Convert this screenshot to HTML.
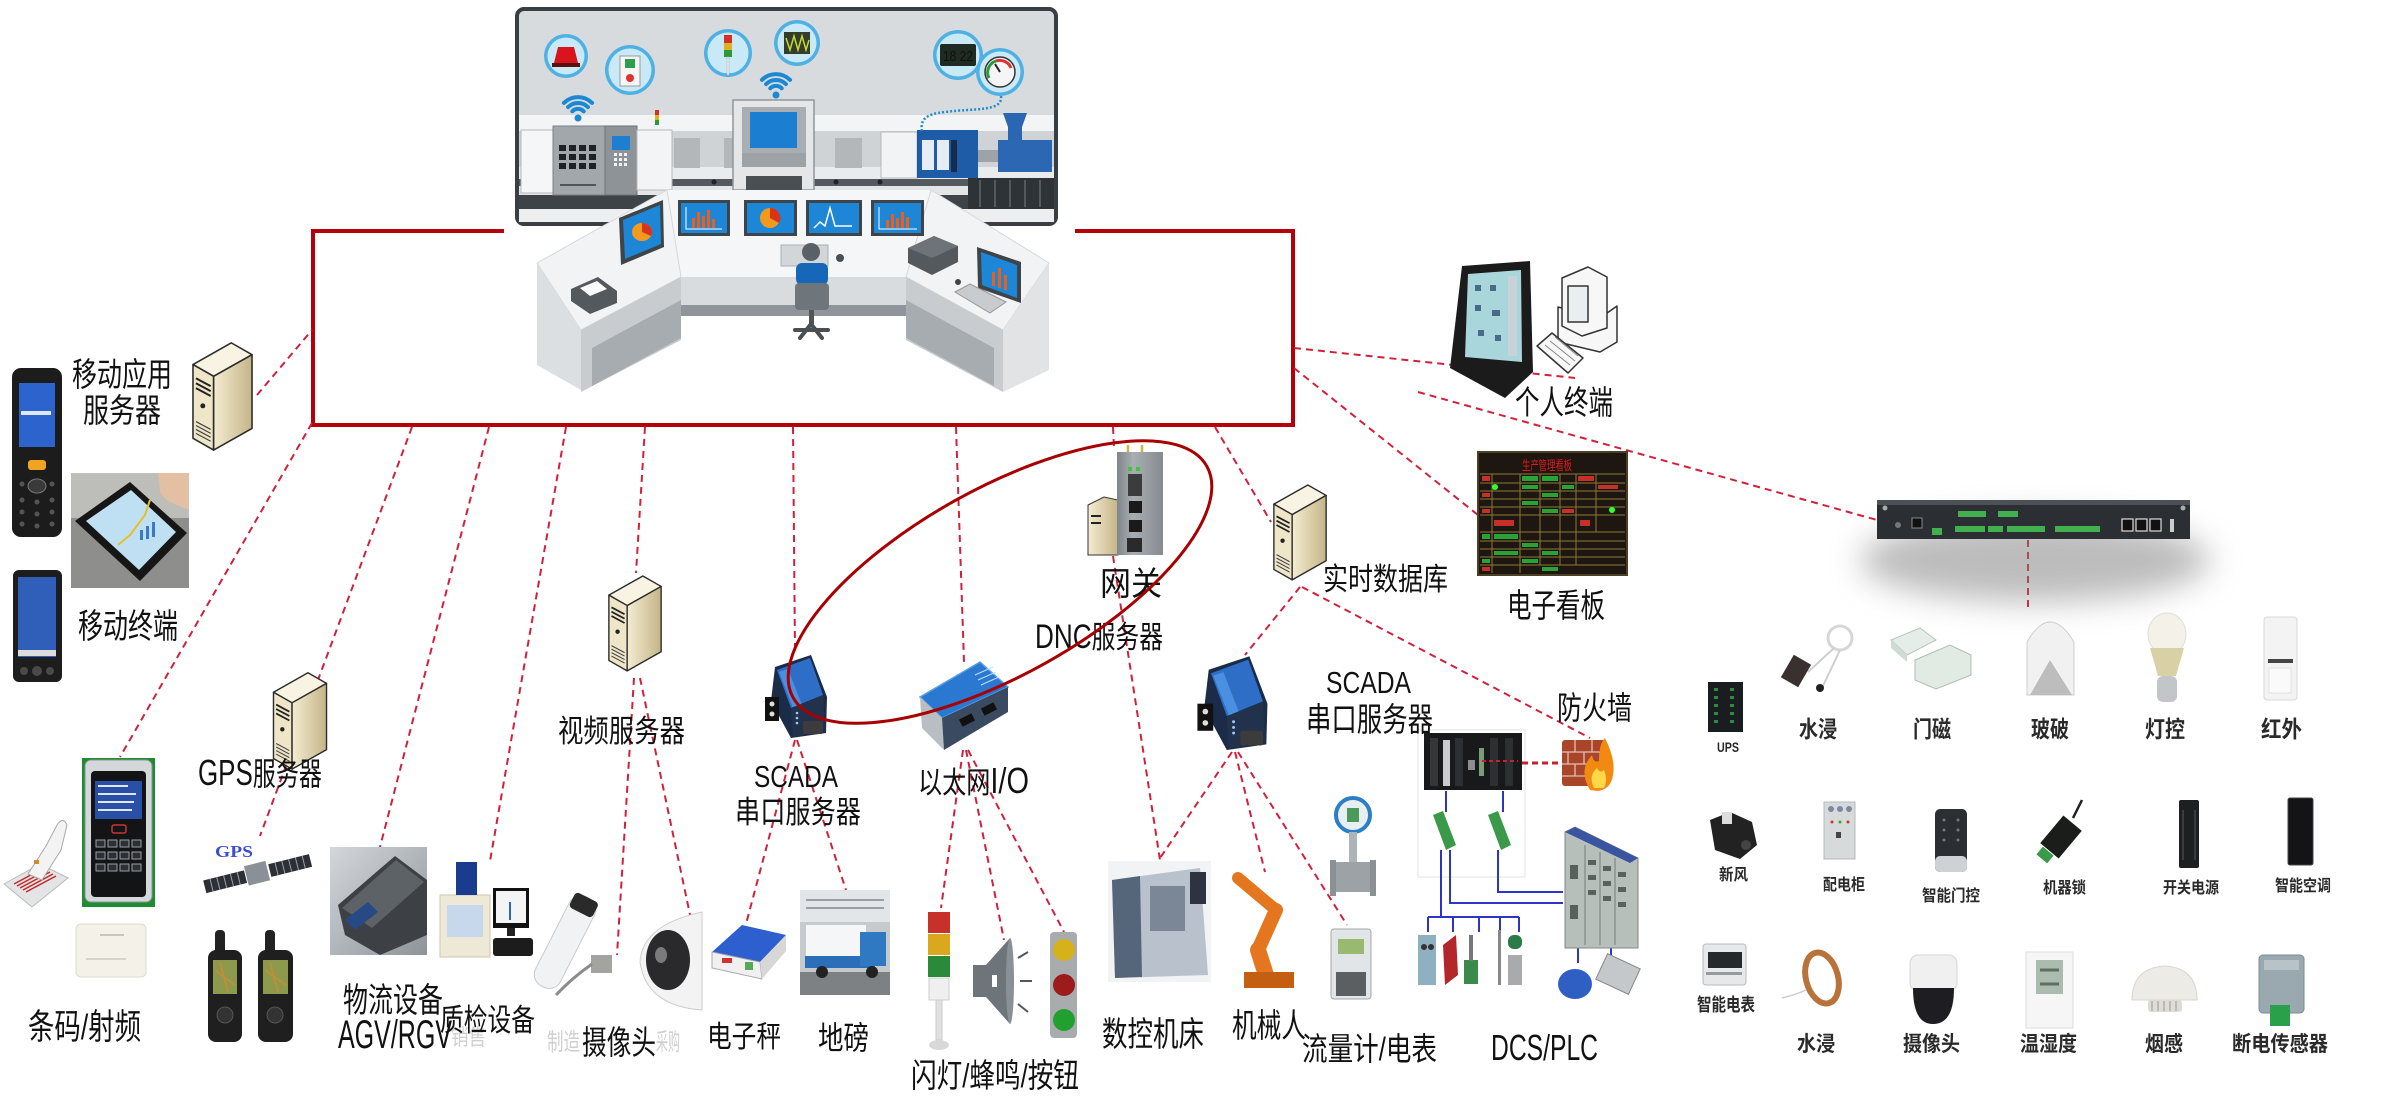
<!DOCTYPE html>
<html><head><meta charset="utf-8"><title>diagram</title>
<style>
html,body{margin:0;padding:0;background:#fff;width:2391px;height:1118px;overflow:hidden}
svg{display:block}
text{font-family:"Liberation Sans","Noto Sans CJK SC",sans-serif;fill:#111}
.g text{font-weight:bold;fill:#2a2a2a}
.fa{fill:#cfcfcf}
</style></head><body>
<svg xmlns="http://www.w3.org/2000/svg" width="2391" height="1118" viewBox="0 0 2391 1118">
<defs>
 <linearGradient id="beige" x1="0" x2="1" y1="0" y2="0"><stop offset="0" stop-color="#f4ecd2"/><stop offset="1" stop-color="#c4b587"/></linearGradient>
 <linearGradient id="gw" x1="0" x2="1"><stop offset="0" stop-color="#7f858a"/><stop offset=".35" stop-color="#a9aeb2"/><stop offset="1" stop-color="#858b90"/></linearGradient>
 <linearGradient id="agv" x1="0" x2="1" y1="0" y2="1"><stop offset="0" stop-color="#d3d7da"/><stop offset="1" stop-color="#8d9499"/></linearGradient>
 <filter id="blur" x="-50%" y="-80%" width="200%" height="260%"><feGaussianBlur stdDeviation="16"/></filter>
 <symbol id="srv" viewBox="0 0 62 112">
   <polygon points="1,24 40,2 61,14 22,36" fill="#f8f3e2" stroke="#2b2b2b" stroke-width="1.6" stroke-linejoin="round"/>
   <polygon points="1,24 22,36 22,111 1,99" fill="#efe6c8" stroke="#2b2b2b" stroke-width="1.6" stroke-linejoin="round"/>
   <polygon points="22,36 61,14 61,89 22,111" fill="url(#beige)" stroke="#2b2b2b" stroke-width="1.6" stroke-linejoin="round"/>
   <path d="M4,38 L19,46 M4,43 L19,51 M4,48 L19,56" stroke="#222" stroke-width="2"/>
   <circle cx="11" cy="66" r="2.5" fill="#222"/>
   <path d="M4,82 L19,90 M4,86 L19,94 M4,90 L19,98 M4,94 L19,102" stroke="#444" stroke-width="1.2"/>
 </symbol>
 <symbol id="ser" viewBox="0 0 63 85">
   <polygon points="10,14 46,2 62,44 61,80 26,85 6,48" fill="#1b2c48"/>
   <polygon points="12,17 45,5 58,42 26,55" fill="#2e6ec6"/>
   <polygon points="14,19 23,16 37,52 28,55" fill="#4a8fe0"/>
   <polygon points="26,55 58,42 60,78 28,84" fill="#22324d"/>
   <rect x="0" y="44" width="14" height="24" fill="#111"/>
   <circle cx="7" cy="51" r="2.5" fill="#ddd"/><circle cx="7" cy="61" r="2.5" fill="#ddd"/>
   <rect x="38" y="68" width="20" height="13" fill="#3c3c3c" rx="2"/>
   <circle cx="32" cy="60" r="1.3" fill="#9cf"/><circle cx="32" cy="65" r="1.3" fill="#9cf"/><circle cx="32" cy="70" r="1.3" fill="#9cf"/>
 </symbol>
</defs>

<rect width="2391" height="1118" fill="#fff"/>

<!-- red frame -->
<rect x="313" y="231" width="980" height="194" fill="none" stroke="#b50008" stroke-width="4"/>

<!-- dashed connectors -->
<g stroke="#d3203a" stroke-width="2" stroke-dasharray="7 5" fill="none">
 <path d="M257,395 L312,330"/>
 <path d="M312,423 L120,757"/>
 <path d="M412,427 L260,836"/>
 <path d="M489,427 L380,847"/>
 <path d="M566,427 L490,861"/>
 <path d="M645,427 L636,573"/>
 <path d="M634,678 L617,955"/>
 <path d="M640,678 L700,962"/>
 <path d="M793,427 L795,653"/>
 <path d="M795,740 L746,924"/>
 <path d="M797,740 L846,890"/>
 <path d="M956,427 L964,662"/>
 <path d="M963,750 L941,908"/>
 <path d="M966,750 L1004,940"/>
 <path d="M968,750 L1064,932"/>
 <path d="M1113,427 L1114,448"/>
 <path d="M1113,556 L1160,860"/>
 <path d="M1215,427 L1271,522"/>
 <path d="M1300,587 L1245,655"/>
 <path d="M1302,587 L1590,738"/>
 <path d="M1232,752 L1160,858"/>
 <path d="M1235,752 L1265,872"/>
 <path d="M1238,752 L1347,925"/>
 <path d="M1294,348 L1575,378"/>
 <path d="M1294,368 L1478,515"/>
 <path d="M1418,392 L1877,520"/>
 <path d="M2028,540 L2028,610"/>
</g>

<!-- ===== TOP PICTURE ===== -->
<rect x="517" y="9" width="539" height="215" rx="7" fill="#d8dbde" stroke="#393e42" stroke-width="4"/>
<rect x="519" y="115" width="535" height="16" fill="#f3f4f5"/>
<rect x="519" y="131" width="535" height="36" fill="#d0d3d6"/>
<rect x="519" y="167" width="535" height="12" fill="#e9ebec"/>
<rect x="519" y="179" width="535" height="7" fill="#53595e"/>
<rect x="519" y="186" width="535" height="9" fill="#e3e5e7"/>
<rect x="519" y="195" width="535" height="14" fill="#3d4347"/>
<rect x="519" y="209" width="535" height="13" fill="#eceef0"/>
<rect x="674" y="138" width="26" height="30" fill="#b3b7ba"/>
<rect x="724" y="138" width="9" height="30" fill="#b3b7ba"/>
<rect x="835" y="138" width="27" height="30" fill="#b3b7ba"/>
<circle cx="714" cy="182" r="2.5" fill="#1e2226"/><circle cx="836" cy="182" r="2.5" fill="#1e2226"/><circle cx="880" cy="182" r="2.5" fill="#1e2226"/>
<!-- left machines -->
<rect x="521" y="130" width="32" height="63" fill="#f5f6f7" stroke="#b5b9bc"/>
<rect x="553" y="126" width="52" height="69" fill="#a2a7ab" stroke="#7d8286"/>
<g fill="#1e2226">
<rect x="559" y="145" width="7" height="6"/><rect x="569" y="145" width="7" height="6"/><rect x="579" y="145" width="7" height="6"/><rect x="589" y="145" width="7" height="6"/>
<rect x="559" y="154" width="7" height="6"/><rect x="569" y="154" width="7" height="6"/><rect x="579" y="154" width="7" height="6"/><rect x="589" y="154" width="7" height="6"/>
<rect x="559" y="163" width="7" height="6"/><rect x="569" y="163" width="7" height="6"/><rect x="579" y="163" width="7" height="6"/><rect x="589" y="163" width="7" height="6"/>
</g>
<rect x="560" y="184" width="36" height="2" fill="#555"/>
<rect x="605" y="126" width="32" height="69" fill="#8e9398" stroke="#6f7478"/>
<rect x="612" y="136" width="18" height="14" fill="#1c7fd1"/>
<g fill="#f2f2f2"><rect x="614" y="153" width="3" height="3"/><rect x="619" y="153" width="3" height="3"/><rect x="624" y="153" width="3" height="3"/><rect x="614" y="158" width="3" height="3"/><rect x="619" y="158" width="3" height="3"/><rect x="624" y="158" width="3" height="3"/><rect x="614" y="163" width="3" height="3"/><rect x="619" y="163" width="3" height="3"/><rect x="624" y="163" width="3" height="3"/></g>
<rect x="637" y="130" width="35" height="60" fill="#f3f4f5" stroke="#b5b9bc"/>
<rect x="655" y="110" width="4" height="5" fill="#d3302a"/><rect x="655" y="115" width="4" height="5" fill="#e0b020"/><rect x="655" y="120" width="4" height="5" fill="#2c9a3a"/>
<!-- center machine -->
<rect x="733" y="100" width="81" height="90" fill="#e4e6e8" stroke="#8f959a" stroke-width="1.5"/>
<rect x="742" y="107" width="64" height="46" fill="#a9aeb2"/>
<rect x="750" y="112" width="47" height="36" fill="#1b7ed0"/>
<rect x="742" y="153" width="64" height="14" fill="#9da2a6"/>
<rect x="746" y="176" width="56" height="14" fill="#4a4f54"/>
<!-- injection machine -->
<rect x="881" y="132" width="36" height="46" fill="#f2f3f4" stroke="#b5b9bc"/>
<rect x="917" y="130" width="61" height="48" fill="#1f5ca8"/>
<rect x="922" y="140" width="12" height="30" fill="#e6ecf3"/>
<rect x="937" y="140" width="12" height="30" fill="#e6ecf3"/>
<rect x="951" y="140" width="6" height="32" fill="#172c4a"/>
<rect x="978" y="150" width="20" height="12" fill="#9ea3a7"/>
<rect x="998" y="140" width="54" height="32" fill="#2b67b2"/>
<polygon points="1003,113 1027,113 1022,127 1008,127" fill="#2a66b1"/>
<rect x="1008" y="127" width="14" height="13" fill="#2a66b1"/>
<rect x="968" y="178" width="86" height="31" fill="#2e3337"/>
<path d="M980,180 V207 M995,180 V207 M1010,180 V207 M1025,180 V207 M1040,180 V207" stroke="#60666b" stroke-width="1.5"/>
<path d="M1001,96 C1003,112 975,108 945,112 C925,114 920,120 922,132" stroke="#1f8fd0" stroke-width="2.5" stroke-dasharray="2 2" fill="none"/>
<path d="M975,55 L984,58" stroke="#1f8fd0" stroke-width="2.5" stroke-dasharray="2 2"/>
<!-- bubbles -->
<circle cx="566" cy="56" r="22" fill="#4fb1e3"/><circle cx="566" cy="56" r="18.5" fill="#c9e9f7"/>
<polygon points="558,47 574,47 578,63 554,63" fill="#d8141c"/><rect x="552" y="63" width="28" height="4" fill="#5a1010"/>
<circle cx="630" cy="70" r="25" fill="#4fb1e3"/><circle cx="630" cy="70" r="21.5" fill="#c9e9f7"/>
<rect x="620" y="56" width="20" height="30" fill="#f6f6f6" stroke="#999"/><rect x="625" y="59" width="10" height="9" fill="#2e9e4a"/><circle cx="630" cy="78" r="4" fill="#d33"/>
<circle cx="728" cy="53" r="24" fill="#4fb1e3"/><circle cx="728" cy="53" r="20.5" fill="#c9e9f7"/>
<rect x="724" y="35" width="8" height="8" fill="#d3302a"/><rect x="724" y="43" width="8" height="7" fill="#e0b020"/><rect x="724" y="50" width="8" height="7" fill="#2c9a3a"/><rect x="727" y="57" width="2" height="18" fill="#eee" stroke="#aaa" stroke-width=".5"/>
<circle cx="797" cy="43" r="23" fill="#4fb1e3"/><circle cx="797" cy="43" r="19.5" fill="#c9e9f7"/>
<rect x="784" y="32" width="26" height="22" fill="#323d2c"/><polyline points="786,38 790,50 794,36 798,50 802,36 806,50 809,40" stroke="#c8d830" stroke-width="1.5" fill="none"/>
<circle cx="958" cy="55" r="25" fill="#4fb1e3"/><circle cx="958" cy="55" r="21.5" fill="#c9e9f7"/>
<rect x="940" y="44" width="36" height="22" rx="2" fill="#1f2a22"/>
<text x="943" y="61" font-size="15" fill="#6fd34a" textLength="30" lengthAdjust="spacingAndGlyphs">18 22</text>
<circle cx="1000" cy="72" r="24" fill="#4fb1e3"/><circle cx="1000" cy="72" r="20.5" fill="#c9e9f7"/>
<circle cx="1000" cy="72" r="15" fill="#f5f5f5" stroke="#333" stroke-width="1.5"/>
<path d="M989,78 A12 12 0 0 1 996,61" stroke="#2a9a3a" stroke-width="3" fill="none"/><path d="M996,61 A12 12 0 0 1 1011,68" stroke="#d33" stroke-width="3" fill="none"/>
<path d="M1000,72 L995,64" stroke="#222" stroke-width="2"/>
<!-- wifi -->
<g stroke="#1a88d2" stroke-width="4" fill="none" stroke-linecap="round">
<path d="M572.3,111.3 A8 8 0 0 1 583.7,111.3"/><path d="M568.1,107.1 A14 14 0 0 1 587.9,107.1"/><path d="M563.9,102.9 A20 20 0 0 1 592.1,102.9"/>
<path d="M770.3,88.3 A8 8 0 0 1 781.7,88.3"/><path d="M766.1,84.1 A14 14 0 0 1 785.9,84.1"/><path d="M761.9,79.9 A20 20 0 0 1 790.1,79.9"/>
</g>
<circle cx="578" cy="118" r="3.5" fill="#1a88d2"/><circle cx="776" cy="95" r="3.5" fill="#1a88d2"/>

<!-- console -->
<rect x="504" y="226" width="571" height="176" fill="#fff"/>
<polygon points="667,190 931,190 906,277 681,277" fill="#f5f6f7"/>
<polygon points="667,190 537,263 581,330 681,277" fill="#f2f3f4" stroke="#d5d8da"/>
<polygon points="931,190 1049,263 1003,330 906,277" fill="#f2f3f4" stroke="#d5d8da"/>
<polygon points="537,263 581,330 581,390 537,365" fill="#dcdfe1"/>
<polygon points="581,330 681,277 681,340 581,392" fill="#c8cccf"/>
<polygon points="592,348 681,300 681,338 592,386" fill="#a7acb0"/>
<rect x="681" y="277" width="225" height="38" fill="#d9dcde"/>
<rect x="681" y="305" width="225" height="11" fill="#8f959a"/>
<polygon points="906,277 1003,330 1003,392 906,340" fill="#c8cccf"/>
<polygon points="906,300 994,348 994,386 906,338" fill="#a7acb0"/>
<polygon points="1003,330 1049,263 1049,370 1003,392" fill="#e1e3e5"/>
<!-- monitors -->
<rect x="678" y="200" width="52" height="36" fill="#3e4448"/><rect x="681" y="203" width="46" height="30" fill="#1d86d6"/>
<path d="M686,207 V229 H722" stroke="#fff" stroke-width="1" fill="none"/>
<g fill="#e8601c"><rect x="692" y="218" width="3" height="10"/><rect x="697" y="212" width="3" height="16"/><rect x="702" y="216" width="3" height="12"/><rect x="707" y="210" width="3" height="18"/><rect x="712" y="219" width="3" height="9"/></g>
<rect x="744" y="200" width="53" height="36" fill="#3e4448"/><rect x="747" y="203" width="47" height="30" fill="#1d86d6"/>
<circle cx="770" cy="218" r="10" fill="#f29a1c"/><path d="M770,218 L770,208 A10 10 0 0 1 779,223 Z" fill="#d8341c"/>
<rect x="806" y="200" width="56" height="36" fill="#3e4448"/><rect x="809" y="203" width="50" height="30" fill="#1d86d6"/>
<polyline points="814,228 820,222 825,226 830,208 835,226 852,226" stroke="#fff" stroke-width="1.5" fill="none"/>
<rect x="871" y="200" width="53" height="36" fill="#3e4448"/><rect x="874" y="203" width="47" height="30" fill="#1d86d6"/>
<path d="M879,207 V229 H917" stroke="#fff" stroke-width="1" fill="none"/>
<g fill="#e8601c"><rect x="886" y="220" width="3" height="8"/><rect x="891" y="214" width="3" height="14"/><rect x="896" y="218" width="3" height="10"/><rect x="901" y="212" width="3" height="16"/><rect x="906" y="217" width="3" height="11"/></g>
<polygon points="619,218 663,200 664,247 621,265" fill="#3e4448"/><polygon points="623,220 660,205 661,244 625,259" fill="#1d86d6"/>
<ellipse cx="642" cy="232" rx="10" ry="9" fill="#f29a1c"/><path d="M642,232 L642,223 A10 9 0 0 1 651,236 Z" fill="#d8341c"/>
<polygon points="977,247 1021,262 1021,303 978,288" fill="#3e4448"/><polygon points="981,252 1017,265 1017,298 982,285" fill="#1d86d6"/>
<g fill="#e8601c"><rect x="992" y="272" width="3" height="14"/><rect x="998" y="268" width="3" height="20"/><rect x="1004" y="275" width="3" height="15"/></g>
<!-- operator -->
<rect x="781" y="245" width="47" height="21" fill="#d3d6d9" stroke="#aab0b4"/>
<circle cx="840" cy="258" r="4" fill="#4a4f54"/>
<circle cx="811" cy="252" r="9" fill="#5a6166"/>
<rect x="796" y="263" width="32" height="22" rx="6" fill="#1667b8"/>
<rect x="795" y="283" width="34" height="27" rx="4" fill="#6f767b"/>
<rect x="809" y="310" width="5" height="14" fill="#555"/>
<path d="M795,330 L828,330 M811,324 L800,338 M811,324 L822,338" stroke="#4a4f54" stroke-width="4" stroke-linecap="round"/>
<!-- desk items -->
<polygon points="571,289 598,277 617,291 617,303 590,314 571,301" fill="#54595e"/>
<polygon points="580,288 597,281 607,289 590,296" fill="#fafafa"/>
<polygon points="908,248 934,236 958,246 958,262 932,275 908,263" fill="#54595e"/>
<polygon points="908,248 934,236 958,246 932,258" fill="#6d7378"/>
<polygon points="955,292 970,284 1006,302 990,313" fill="#c9cccf" stroke="#999"/>
<circle cx="958" cy="282" r="3" fill="#444"/>

<!-- ===== LEFT COLUMN ===== -->
<rect x="12" y="368" width="50" height="169" rx="9" fill="#1c1c1c"/>
<rect x="19" y="383" width="36" height="64" fill="#2c63cc"/>
<rect x="21" y="411" width="30" height="4" fill="#dfe8ff"/>
<rect x="28" y="460" width="18" height="10" rx="3" fill="#f0a422"/>
<ellipse cx="37" cy="486" rx="9" ry="7" fill="#3a3a3a" stroke="#777"/>
<g fill="#555"><circle cx="22" cy="484" r="2.5"/><circle cx="52" cy="484" r="2.5"/><circle cx="22" cy="500" r="2.5"/><circle cx="37" cy="502" r="2.5"/><circle cx="52" cy="500" r="2.5"/><circle cx="22" cy="512" r="2.5"/><circle cx="37" cy="514" r="2.5"/><circle cx="52" cy="512" r="2.5"/><circle cx="22" cy="524" r="2.5"/><circle cx="37" cy="526" r="2.5"/><circle cx="52" cy="524" r="2.5"/></g>
<!-- tablet photo -->
<rect x="71" y="473" width="118" height="115" fill="#8e8f8d"/>
<rect x="71" y="473" width="118" height="45" fill="#bdbdba"/>
<polygon points="75,521 130,482 187,533 140,581" fill="#161616"/>
<polygon points="86,521 131,490 176,532 139,570" fill="#bfe0f2"/>
<polyline points="118,545 130,535 145,515 150,500" stroke="#e6c02a" stroke-width="2" fill="none"/>
<g fill="#3a78c8"><rect x="140" y="530" width="3" height="10"/><rect x="146" y="526" width="3" height="13"/><rect x="152" y="522" width="3" height="15"/></g>
<path d="M158,473 L189,473 L189,510 Q176,505 166,500 L160,492 Z" fill="#e3bfa3"/>
<!-- PDA -->
<rect x="13" y="570" width="49" height="112" rx="6" fill="#1d1d1d"/>
<rect x="18" y="577" width="38" height="80" fill="#2f5fb8"/>
<rect x="18" y="650" width="38" height="6" fill="#dcdcdc"/>
<circle cx="24" cy="671" r="4" fill="#4a4a4a"/><circle cx="37" cy="671" r="5" fill="#4a4a4a"/><circle cx="50" cy="671" r="4" fill="#4a4a4a"/>
<!-- mobile app server -->
<use href="#srv" x="192" y="340" width="61" height="112"/>
<!-- card reader -->
<rect x="82" y="758" width="73" height="149" fill="#1e8c33"/>
<rect x="85" y="760" width="67" height="142" rx="6" fill="#d4d8db" stroke="#8d9296"/>
<rect x="91" y="771" width="55" height="126" rx="4" fill="#121416"/>
<rect x="95" y="781" width="47" height="38" fill="#2a4fa6"/>
<g fill="#dfe6ff"><rect x="98" y="785" width="30" height="2"/><rect x="98" y="793" width="38" height="2"/><rect x="98" y="801" width="36" height="2"/><rect x="98" y="809" width="34" height="2"/></g>
<rect x="112" y="825" width="14" height="8" rx="2" fill="none" stroke="#c33" stroke-width="1.5"/>
<g fill="#2d3033" stroke="#9aa0a4" stroke-width="1">
<rect x="96" y="840" width="9" height="7"/><rect x="108" y="840" width="9" height="7"/><rect x="120" y="840" width="9" height="7"/><rect x="132" y="840" width="9" height="7"/>
<rect x="96" y="852" width="9" height="7"/><rect x="108" y="852" width="9" height="7"/><rect x="120" y="852" width="9" height="7"/><rect x="132" y="852" width="9" height="7"/>
<rect x="96" y="864" width="9" height="7"/><rect x="108" y="864" width="9" height="7"/><rect x="120" y="864" width="9" height="7"/><rect x="132" y="864" width="9" height="7"/>
</g>
<!-- barcode scanner -->
<polygon points="4,884 40,864 68,878 32,907" fill="#e3e4e6" stroke="#bbb"/>
<path d="M14,884 L44,868 M17,886 L47,870 M20,888 L50,872 M23,890 L53,874 M26,892 L56,876" stroke="#c22a2a" stroke-width="1.5"/>
<path d="M28,874 L46,846 L57,825 Q63,816 67,825 L61,850 L42,880 Z" fill="#f3f3f3" stroke="#a9a9a9"/>
<rect x="34" y="860" width="5" height="4" fill="#d08a30"/>
<!-- RF card -->
<rect x="76" y="924" width="70" height="53" rx="5" fill="#f3f1e8" stroke="#dedbd0"/>
<rect x="100" y="934" width="24" height="2" fill="#c9c6bc"/><rect x="86" y="958" width="40" height="2" fill="#d6d3c9"/>
<!-- GPS server + satellite + handhelds -->
<use href="#srv" x="272" y="671" width="56" height="99"/>
<text x="215" y="857" font-size="17" font-weight="bold" fill="#3b4fd0" textLength="38" lengthAdjust="spacingAndGlyphs" style="font-family:'Liberation Serif',serif;fill:#3b4fd0">GPS</text>
<g transform="rotate(-14 258 873)">
<rect x="203" y="867" width="42" height="13" fill="#2c3036"/>
<rect x="270" y="867" width="42" height="13" fill="#2c3036"/>
<rect x="246" y="863" width="22" height="20" fill="#8a9097"/>
<path d="M210,867 V880 M217,867 V880 M224,867 V880 M231,867 V880 M238,867 V880 M277,867 V880 M284,867 V880 M291,867 V880 M298,867 V880 M305,867 V880" stroke="#9aa1a8" stroke-width="1"/>
</g>
<g>
<rect x="215" y="930" width="10" height="26" rx="4" fill="#222"/>
<rect x="208" y="950" width="34" height="92" rx="8" fill="#1f1f1f"/>
<rect x="213" y="960" width="24" height="34" fill="#8d9a4c"/>
<path d="M215,970 L235,985 M220,962 L228,992" stroke="#c98b3a" stroke-width="1.5"/>
<circle cx="225" cy="1015" r="8" fill="#333" stroke="#555"/>
<rect x="265" y="930" width="10" height="26" rx="4" fill="#222"/>
<rect x="258" y="950" width="35" height="92" rx="8" fill="#1f1f1f"/>
<rect x="263" y="960" width="25" height="34" fill="#8d9a4c"/>
<path d="M265,970 L286,985 M270,962 L278,992" stroke="#c98b3a" stroke-width="1.5"/>
<circle cx="275" cy="1015" r="8" fill="#333" stroke="#555"/>
</g>
<!-- AGV -->
<rect x="330" y="847" width="97" height="108" fill="url(#agv)"/>
<polygon points="338,905 395,856 427,880 427,935 380,955 345,935" fill="#3d4145"/>
<polygon points="342,908 396,860 424,882 372,928" fill="#5d6267"/>
<polygon points="345,920 368,902 378,912 355,930" fill="#274a86"/>
<!-- quality device -->
<rect x="440" y="895" width="50" height="62" fill="#eee8d6" stroke="#cfc6ad"/>
<rect x="447" y="905" width="36" height="32" fill="#c8d8ec"/>
<path d="M456,862 h21 v33 h-21 z" fill="#1a3c8e"/>
<rect x="493" y="888" width="36" height="40" fill="#111"/><rect x="496" y="891" width="30" height="32" fill="#f4f4f4"/>
<rect x="509" y="902" width="2" height="18" fill="#2a66c8"/>
<rect x="507" y="928" width="8" height="8" fill="#222"/>
<rect x="493" y="938" width="40" height="18" rx="3" fill="#1c1c1c"/>
<!-- video server -->
<use href="#srv" x="608" y="571" width="54" height="104"/>
<!-- camera -->
<g transform="rotate(-63 565 942)">
<rect x="515" y="928" width="100" height="28" rx="13" fill="#f1f2f3" stroke="#c9cbcd"/>
<rect x="598" y="929" width="17" height="26" rx="4" fill="#2a2a2a"/>
</g>
<rect x="591" y="955" width="21" height="18" fill="#a3a49f"/>
<path d="M556,995 Q572,978 592,964" stroke="#8c8c8c" stroke-width="3" fill="none"/>
<!-- dome -->
<path d="M702,912 Q642,925 640,962 Q646,1006 702,1010 Z" fill="#f3f3f3" stroke="#cfcfcf"/>
<ellipse cx="668" cy="960" rx="22" ry="30" fill="#2a2a2d"/>
<ellipse cx="661" cy="955" rx="6" ry="8" fill="#7a7a7a"/>
<!-- SCADA 1 & ethernet IO -->
<use href="#ser" x="765" y="653" width="63" height="85"/>
<polygon points="920,697 980,662 1008,687 942,718" fill="#2a78d0" stroke="#5aa0e8" stroke-width="1.5"/>
<polygon points="920,697 942,718 944,750 922,728" fill="#b9bec2"/>
<polygon points="942,718 1008,687 1008,712 944,750" fill="#3a4a60"/>
<rect x="960" y="716" width="14" height="8" fill="#111" transform="rotate(-27 967 720)"/>
<rect x="982" y="705" width="14" height="8" fill="#111" transform="rotate(-27 989 709)"/>
<path d="M975,675 l18,-8 M978,680 l18,-8 M981,685 l18,-8" stroke="#bfe0ff" stroke-width="1"/>
<!-- scale -->
<polygon points="712,952 742,925 786,935 760,962" fill="#2d5fcf"/>
<polygon points="712,952 760,962 762,979 712,968" fill="#f0f0f0" stroke="#aaa"/>
<polygon points="760,962 786,935 786,951 762,979" fill="#d7d7d7"/>
<rect x="722" y="958" width="10" height="5" fill="#c33"/><rect x="745" y="962" width="8" height="8" fill="#5a5"/>
<!-- weighbridge photo -->
<rect x="800" y="890" width="90" height="105" fill="#c6cacd"/>
<rect x="800" y="890" width="90" height="32" fill="#e3e6e8"/>
<path d="M806,900 H884 M806,908 H884" stroke="#9aa0a6" stroke-width="2"/>
<rect x="806" y="925" width="60" height="35" fill="#f4f6f8"/>
<rect x="805" y="956" width="70" height="12" fill="#2a6fb8"/>
<rect x="860" y="932" width="26" height="34" fill="#2f78c2"/>
<rect x="800" y="972" width="90" height="23" fill="#7d8184"/>
<circle cx="822" cy="972" r="6" fill="#222"/><circle cx="872" cy="972" r="6" fill="#222"/>
<!-- tower, horn, buttons -->
<rect x="928" y="912" width="22" height="21" fill="#c8302a"/>
<rect x="928" y="934" width="22" height="21" fill="#d9a81e"/>
<rect x="928" y="956" width="22" height="21" fill="#2b8a3a"/>
<rect x="929" y="978" width="20" height="22" fill="#efefef" stroke="#ccc"/>
<rect x="936" y="1000" width="6" height="40" fill="#e0e0e0" stroke="#ccc"/>
<ellipse cx="939" cy="1045" rx="10" ry="5" fill="#d8d8d8"/>
<rect x="973" y="965" width="13" height="32" fill="#6d757a"/>
<polygon points="986,965 1010,938 1010,1024 986,997" fill="#6d757a"/>
<ellipse cx="1010" cy="981" rx="4" ry="43" fill="#8a9196"/>
<rect x="992" y="975" width="5" height="12" fill="#fff"/>
<path d="M1018,958 l10,-6 M1020,981 h12 M1018,1004 l10,8" stroke="#555" stroke-width="2"/>
<rect x="1050" y="932" width="27" height="106" rx="4" fill="#a9acaf"/>
<circle cx="1064" cy="950" r="11" fill="#d6b21a"/>
<circle cx="1064" cy="985" r="11" fill="#9c1b1b"/>
<circle cx="1064" cy="1020" r="11" fill="#22a02e"/>
<!-- gateway -->
<polygon points="1088,505 1104,497 1118,500 1118,555 1088,555" fill="url(#beige)" stroke="#333"/>
<rect x="1091" y="515" width="10" height="2" fill="#222"/><rect x="1091" y="522" width="10" height="2" fill="#222"/>
<path d="M1128,445 V455 M1142,445 V455" stroke="#c8b84a" stroke-width="2.5"/>
<rect x="1117" y="452" width="46" height="103" fill="url(#gw)"/>
<rect x="1128" y="467" width="4" height="4" fill="#3c3"/><rect x="1136" y="467" width="4" height="4" fill="#3c3"/>
<rect x="1128" y="474" width="14" height="22" fill="#3a3d40"/>
<rect x="1129" y="501" width="13" height="12" fill="#1a1a1a"/><rect x="1129" y="520" width="13" height="12" fill="#1a1a1a"/>
<rect x="1127" y="538" width="15" height="14" fill="#2a2a2a"/>
<!-- CNC -->
<rect x="1108" y="861" width="103" height="121" fill="#f2f3f5"/>
<polygon points="1112,880 1200,868 1208,975 1115,978" fill="#b9c2cc"/>
<polygon points="1112,880 1140,876 1142,977 1115,978" fill="#55657a"/>
<rect x="1150" y="886" width="35" height="45" fill="#7b8796"/>
<rect x="1190" y="872" width="16" height="32" fill="#2d3440"/>
<!-- robot -->
<g stroke="#e3761f" stroke-linecap="round" fill="none">
<path d="M1238,878 L1276,910" stroke-width="12"/>
<path d="M1276,910 L1258,950" stroke-width="14"/>
<path d="M1258,950 L1266,975" stroke-width="16"/>
</g>
<rect x="1244" y="972" width="50" height="16" fill="#c45f12"/>
<!-- flowmeter / meter -->
<circle cx="1353" cy="815" r="17" fill="#e9eef2" stroke="#2b7fc7" stroke-width="4"/>
<rect x="1347" y="808" width="12" height="14" fill="#4c9a5a"/>
<rect x="1349" y="832" width="8" height="30" fill="#aeb3b7"/>
<rect x="1333" y="862" width="40" height="30" rx="4" fill="#9ca2a6"/>
<rect x="1330" y="860" width="6" height="36" fill="#8a9094"/><rect x="1370" y="860" width="6" height="36" fill="#8a9094"/>
<rect x="1331" y="929" width="40" height="70" rx="3" fill="#e2e5e7" stroke="#a3a8ab"/>
<rect x="1338" y="939" width="26" height="15" fill="#98b96f"/>
<rect x="1336" y="972" width="30" height="24" fill="#5b5f62"/>
<!-- realtime DB server, SCADA2 -->
<use href="#srv" x="1273" y="482" width="54" height="100"/>
<use href="#ser" x="1197" y="654" width="72" height="96"/>
<!-- DCS/PLC -->
<rect x="1418" y="730" width="107" height="147" fill="#fff" stroke="#e3e3e3"/>
<rect x="1424" y="733" width="98" height="57" fill="#17191b"/>
<rect x="1430" y="738" width="8" height="48" fill="#34383b"/><rect x="1443" y="740" width="7" height="46" fill="#c9ccce"/>
<rect x="1455" y="738" width="8" height="48" fill="#2c3033"/><rect x="1468" y="760" width="7" height="10" fill="#8a8f92"/>
<rect x="1479" y="748" width="5" height="28" fill="#7c9c7a"/><rect x="1490" y="738" width="8" height="48" fill="#2c3033"/><rect x="1505" y="738" width="8" height="48" fill="#2c3033"/>
<path d="M1482,761 H1518" stroke="#c8202e" stroke-width="2" stroke-dasharray="4 3"/>
<path d="M1522,763 L1558,763" stroke="#c8202e" stroke-width="3" stroke-dasharray="6 4"/>
<g stroke="#2c35c7" stroke-width="2" fill="none">
<path d="M1446,791 V812 M1503,791 V812"/>
<path d="M1441,850 V917 M1450,850 V903 H1563 M1498,850 V892 H1563 M1428,917 H1519 M1428,917 V932 M1453,917 V932 M1479,917 V932 M1500,917 V932 M1519,917 V932 M1578,948 V963 M1611,948 V963"/>
</g>
<polygon points="1433,815 1443,811 1456,845 1446,850" fill="#3a9a4a"/>
<polygon points="1488,815 1498,811 1511,845 1501,850" fill="#3a9a4a"/>
<polygon points="1565,832 1575,827 1638,858 1638,948 1565,948" fill="#b7bfbb" stroke="#7f8a86"/>
<polygon points="1565,832 1575,827 1638,858 1630,863" fill="#3a55a0"/>
<path d="M1585,845 V945 M1600,852 V945 M1615,858 V945" stroke="#8a948f" stroke-width="1.5"/>
<g fill="#59615d"><rect x="1588" y="860" width="8" height="5"/><rect x="1588" y="875" width="8" height="5"/><rect x="1588" y="890" width="8" height="5"/><rect x="1603" y="866" width="8" height="5"/><rect x="1603" y="881" width="8" height="5"/><rect x="1603" y="896" width="8" height="5"/><rect x="1618" y="872" width="8" height="5"/><rect x="1618" y="887" width="8" height="5"/><rect x="1618" y="902" width="8" height="5"/><rect x="1570" y="865" width="8" height="14"/><rect x="1570" y="905" width="8" height="14"/></g>
<ellipse cx="1575" cy="984" rx="17" ry="15" fill="#2f5fc2"/>
<rect x="1600" y="960" width="36" height="28" fill="#c5c8cb" stroke="#888" transform="rotate(25 1618 974)"/>
<rect x="1418" y="935" width="18" height="50" fill="#8fb0c0"/>
<circle cx="1424" cy="947" r="3" fill="#333"/><circle cx="1431" cy="947" r="3" fill="#333"/>
<path d="M1443,945 L1456,935 L1458,975 L1445,985 Z" fill="#b3262a"/>
<rect x="1464" y="960" width="14" height="24" fill="#3b8a4a"/><rect x="1469" y="935" width="4" height="26" fill="#777"/>
<rect x="1498" y="930" width="3" height="55" fill="#888"/>
<rect x="1508" y="935" width="14" height="14" rx="6" fill="#2a7a4a"/><rect x="1508" y="955" width="14" height="30" fill="#a8aaac"/>
<!-- firewall -->
<rect x="1562" y="740" width="44" height="46" rx="3" fill="#a8452a"/>
<path d="M1562,752 H1606 M1562,764 H1606 M1562,776 H1606 M1575,740 V752 M1592,740 V752 M1568,752 V764 M1584,752 V764 M1600,752 V764 M1575,764 V776 M1592,764 V776" stroke="#e2c2b0" stroke-width="1.3"/>
<path d="M1590,790 Q1578,770 1592,755 Q1594,765 1600,760 Q1598,745 1605,738 Q1616,760 1613,775 Q1611,789 1598,791 Z" fill="#f28a12"/>
<path d="M1594,788 Q1588,776 1597,768 Q1600,774 1604,770 Q1608,780 1604,788 Z" fill="#ffd84a"/>
<!-- personal terminal -->
<polygon points="1462,266 1530,261 1533,372 1505,398 1450,368" fill="#1b1b1b"/>
<polygon points="1468,274 1521,270 1522,362 1465,357" fill="#a9d6da"/>
<g fill="#4a6a8a"><rect x="1475" y="285" width="6" height="6"/><rect x="1490" y="285" width="6" height="6"/><rect x="1475" y="305" width="6" height="6"/><rect x="1492" y="310" width="8" height="6"/><rect x="1478" y="330" width="6" height="6"/><rect x="1495" y="335" width="6" height="6"/></g>
<rect x="1508" y="276" width="9" height="80" fill="#c9d2d6"/>
<g fill="#f7f7f7" stroke="#333" stroke-width="1.5" stroke-linejoin="round">
<polygon points="1558,307 1600,318 1617,306 1617,342 1600,352 1558,342"/>
<polygon points="1562,278 1588,267 1607,277 1607,328 1582,336 1562,326"/>
<rect x="1568" y="286" width="20" height="36" fill="#e8eef2"/>
<polygon points="1537,346 1552,333 1583,358 1568,373"/>
</g>
<path d="M1545,345 L1570,365 M1550,341 L1575,361 M1555,337 L1578,356" stroke="#888" stroke-width="1"/>
<!-- LED board -->
<rect x="1478" y="452" width="149" height="123" fill="#1e1610" stroke="#4b3f26" stroke-width="2"/>
<text x="1522" y="470" font-size="13" textLength="50" lengthAdjust="spacingAndGlyphs" style="fill:#e01a1a">生产管理看板</text>
<g stroke="#8d7a33" stroke-width="1">
<path d="M1480,474 H1625 M1480,483 H1625 M1480,491 H1625 M1480,499 H1625 M1480,507 H1625 M1480,515 H1625 M1480,532 H1625 M1480,541 H1625 M1480,549 H1625 M1480,557 H1625 M1480,565 H1625"/>
<path d="M1492,474 V573 M1520,474 V573 M1540,474 V565 M1560,474 V565 M1576,474 V565 M1596,474 V532"/>
</g>
<g fill="#29b43a" opacity=".9">
<rect x="1522" y="476" width="16" height="5"/><rect x="1542" y="476" width="16" height="5"/><rect x="1522" y="485" width="16" height="4"/><rect x="1542" y="493" width="16" height="4"/><rect x="1562" y="485" width="12" height="4"/><rect x="1522" y="501" width="16" height="4"/><rect x="1542" y="509" width="16" height="4"/>
<rect x="1482" y="534" width="8" height="5"/><rect x="1494" y="534" width="24" height="5"/><rect x="1522" y="543" width="16" height="4"/><rect x="1494" y="551" width="24" height="4"/><rect x="1482" y="559" width="8" height="4"/><rect x="1522" y="559" width="16" height="4"/><rect x="1542" y="551" width="16" height="4"/><rect x="1542" y="567" width="16" height="4"/>
</g>
<g fill="#c6302a"><rect x="1482" y="476" width="8" height="5"/><rect x="1482" y="493" width="8" height="4"/><rect x="1482" y="509" width="8" height="4"/><rect x="1578" y="476" width="16" height="5"/><rect x="1598" y="485" width="20" height="4"/><rect x="1562" y="509" width="12" height="4"/><rect x="1494" y="520" width="20" height="6"/><rect x="1580" y="520" width="10" height="6"/><rect x="1482" y="567" width="8" height="4"/></g>
<circle cx="1495" cy="487" r="3" fill="#3f3"/><circle cx="1612" cy="510" r="3" fill="#3f3"/>
<!-- rack device -->
<ellipse cx="2035" cy="560" rx="175" ry="42" fill="#7a7a7a" opacity=".5" filter="url(#blur)"/>
<rect x="1877" y="500" width="313" height="39" fill="#2b2f34"/>
<rect x="1877" y="500" width="313" height="5" fill="#4c5157"/>
<g fill="#42b04f">
<rect x="1958" y="511" width="28" height="6"/><rect x="1998" y="511" width="20" height="6"/>
<rect x="1955" y="526" width="30" height="6"/><rect x="1988" y="526" width="15" height="6"/><rect x="2007" y="526" width="38" height="6"/><rect x="2055" y="526" width="45" height="6"/><rect x="1932" y="528" width="10" height="7"/>
</g>
<rect x="1912" y="518" width="10" height="10" fill="#111" stroke="#888"/>
<g fill="#111" stroke="#ddd" stroke-width="1.2"><rect x="2122" y="519" width="11" height="12"/><rect x="2136" y="519" width="11" height="12"/><rect x="2150" y="519" width="11" height="12"/></g>
<rect x="2170" y="519" width="4" height="13" fill="#ccc"/>
<circle cx="1885" cy="508" r="2.5" fill="#aaa"/><circle cx="2183" cy="508" r="2.5" fill="#aaa"/><circle cx="1898" cy="525" r="3" fill="#777"/>

<!-- ===== RIGHT GRID ICONS ===== -->
<!-- row 1 -->
<rect x="1708" y="682" width="35" height="50" fill="#1a1d1f"/>
<g fill="#2f8a4a"><rect x="1714" y="688" width="4" height="3"/><rect x="1714" y="696" width="4" height="3"/><rect x="1714" y="704" width="4" height="3"/><rect x="1714" y="712" width="4" height="3"/><rect x="1714" y="720" width="4" height="3"/><rect x="1730" y="688" width="4" height="3"/><rect x="1730" y="696" width="4" height="3"/><rect x="1730" y="704" width="4" height="3"/><rect x="1730" y="712" width="4" height="3"/><rect x="1730" y="720" width="4" height="3"/></g>
<circle cx="1840" cy="638" r="12" fill="none" stroke="#d7d7d7" stroke-width="3"/>
<path d="M1834,648 L1808,672 M1840,650 L1822,688" stroke="#cfcfcf" stroke-width="2"/>
<rect x="1786" y="658" width="20" height="26" fill="#3b3030" transform="rotate(30 1796 671)"/>
<circle cx="1820" cy="688" r="4" fill="#222"/>
<polygon points="1891,640 1920,628 1936,640 1907,655" fill="#e4ede7" stroke="#b9c6bf"/>
<polygon points="1891,640 1907,655 1907,662 1891,648" fill="#cfdcd4"/>
<polygon points="1915,660 1950,645 1971,655 1971,675 1936,689 1915,680" fill="#e1ebe4" stroke="#b0bdb6"/>
<path d="M2027,695 L2027,642 Q2050,602 2074,642 L2074,695 Z" fill="#f1f1f1" stroke="#cfcfcf"/>
<polygon points="2030,695 2050,660 2072,695" fill="#bdbdbd"/>
<ellipse cx="2167" cy="634" rx="19" ry="21" fill="#f4f2e8" stroke="#ddd"/>
<polygon points="2150,648 2184,648 2176,676 2158,676" fill="#d8d1a6"/>
<rect x="2157" y="676" width="20" height="26" rx="6" fill="#c3c6c8"/>
<rect x="2264" y="617" width="33" height="83" rx="3" fill="#f3f3f3" stroke="#d8d8d8"/>
<rect x="2268" y="659" width="25" height="4" fill="#444"/>
<rect x="2269" y="668" width="22" height="25" fill="#fafafa" stroke="#e2e2e2"/>
<!-- row 2 -->
<polygon points="1710,820 1730,812 1752,822 1757,845 1740,859 1715,850" fill="#222"/>
<rect x="1722" y="812" width="10" height="12" fill="#ddd"/><circle cx="1746" cy="845" r="5" fill="#444"/>
<rect x="1824" y="802" width="31" height="57" fill="#d7dadb" stroke="#b5b9bb"/>
<circle cx="1831" cy="809" r="3" fill="#7a8aa0"/><circle cx="1840" cy="809" r="3" fill="#7a8aa0"/><circle cx="1849" cy="809" r="3" fill="#7a8aa0"/>
<circle cx="1832" cy="822" r="1.5" fill="#c33"/><circle cx="1840" cy="822" r="1.5" fill="#3a3"/><circle cx="1848" cy="822" r="1.5" fill="#c33"/>
<rect x="1836" y="832" width="5" height="6" fill="#444"/>
<rect x="1935" y="809" width="32" height="63" rx="5" fill="#2b2e33"/>
<rect x="1935" y="856" width="32" height="16" rx="5" fill="#cfd2d4"/>
<g fill="#777"><circle cx="1944" cy="820" r="1.5"/><circle cx="1958" cy="820" r="1.5"/><circle cx="1944" cy="830" r="1.5"/><circle cx="1958" cy="830" r="1.5"/><circle cx="1944" cy="840" r="1.5"/><circle cx="1958" cy="840" r="1.5"/></g>
<rect x="2043" y="825" width="36" height="24" fill="#1b1d1b" transform="rotate(-50 2061 837)"/>
<path d="M2073,818 L2082,800" stroke="#222" stroke-width="2.5"/>
<rect x="2040" y="848" width="10" height="14" fill="#3a9a4a" transform="rotate(-50 2045 855)"/>
<rect x="2179" y="800" width="20" height="68" rx="2" fill="#1e1f21"/>
<path d="M2183,810 V860 M2195,810 V860" stroke="#3a3c3f" stroke-width="2"/>
<rect x="2288" y="798" width="25" height="67" rx="2" fill="#141416" stroke="#444"/>
<!-- row 3 -->
<rect x="1703" y="944" width="43" height="41" rx="3" fill="#e6e8ea" stroke="#bbb"/>
<rect x="1708" y="952" width="34" height="16" fill="#26292b"/>
<rect x="1706" y="972" width="36" height="3" fill="#999"/>
<ellipse cx="1822" cy="978" rx="16" ry="26" fill="none" stroke="#b8733a" stroke-width="6" transform="rotate(-15 1822 978)"/>
<path d="M1806,990 Q1795,995 1782,998" stroke="#ccc" stroke-width="1.5" fill="none"/>
<rect x="1910" y="955" width="47" height="36" rx="8" fill="#f0f0f0" stroke="#d6d6d6"/>
<path d="M1913,988 Q1913,1024 1933,1024 Q1954,1024 1954,988 Z" fill="#1e1e22"/>
<rect x="2026" y="952" width="47" height="76" fill="#f6f6f6" stroke="#dcdcdc"/>
<rect x="2036" y="960" width="27" height="34" fill="#a9bcae"/>
<path d="M2040,970 H2059 M2040,984 H2059" stroke="#5d6e62" stroke-width="3"/>
<path d="M2132,1000 Q2132,968 2165,966 Q2197,968 2197,1000 Z" fill="#ecebe6" stroke="#d8d6cf"/>
<rect x="2148" y="1000" width="34" height="12" rx="3" fill="#dedcd5"/>
<path d="M2152,1001 V1011 M2158,1001 V1011 M2164,1001 V1011 M2170,1001 V1011 M2176,1001 V1011" stroke="#999" stroke-width="1"/>
<rect x="2259" y="955" width="45" height="58" rx="4" fill="#9aa8b0" stroke="#7e8b93"/>
<rect x="2264" y="960" width="35" height="10" fill="#b7c3c9"/>
<rect x="2270" y="1005" width="20" height="21" fill="#2aa04a"/>

<!-- faint background words -->
<text class="fa" x="451" y="1045" font-size="22" textLength="35" lengthAdjust="spacingAndGlyphs" style="fill:#cfcfcf">销售</text>
<text class="fa" x="547" y="1050" font-size="24" textLength="33" lengthAdjust="spacingAndGlyphs" style="fill:#cfcfcf">制造</text>
<text class="fa" x="656" y="1050" font-size="24" textLength="24" lengthAdjust="spacingAndGlyphs" style="fill:#cfcfcf">采购</text>

<!-- ===== LABELS ===== -->
<g>
<text x="72" y="386" font-size="33" textLength="100" lengthAdjust="spacingAndGlyphs">移动应用</text>
<text x="83" y="422" font-size="33" textLength="78" lengthAdjust="spacingAndGlyphs">服务器</text>
<text x="78" y="638" font-size="34" textLength="100" lengthAdjust="spacingAndGlyphs">移动终端</text>
<text x="28" y="1039" font-size="35" textLength="113" lengthAdjust="spacingAndGlyphs">条码/射频</text>
<text x="198" y="785" font-size="32" textLength="124" lengthAdjust="spacingAndGlyphs"><tspan font-size="36">GPS</tspan>服务器</text>
<text x="343" y="1012" font-size="34" textLength="100" lengthAdjust="spacingAndGlyphs">物流设备</text>
<text x="338" y="1048" font-size="40" textLength="114" lengthAdjust="spacingAndGlyphs">AGV/RGV</text>
<text x="440" y="1031" font-size="31" textLength="95" lengthAdjust="spacingAndGlyphs">质检设备</text>
<text x="558" y="742" font-size="31" textLength="127" lengthAdjust="spacingAndGlyphs">视频服务器</text>
<text x="582" y="1054" font-size="33" textLength="74" lengthAdjust="spacingAndGlyphs">摄像头</text>
<text x="754" y="787" font-size="31" textLength="84" lengthAdjust="spacingAndGlyphs">SCADA</text>
<text x="735" y="823" font-size="31" textLength="126" lengthAdjust="spacingAndGlyphs">串口服务器</text>
<text x="918" y="793" font-size="30" textLength="111" lengthAdjust="spacingAndGlyphs">以太网<tspan font-size="36">I/O</tspan></text>
<text x="707" y="1047" font-size="30" textLength="74" lengthAdjust="spacingAndGlyphs">电子秤</text>
<text x="818" y="1049" font-size="32" textLength="51" lengthAdjust="spacingAndGlyphs">地磅</text>
<text x="911" y="1087" font-size="33" textLength="168" lengthAdjust="spacingAndGlyphs">闪灯/蜂鸣/按钮</text>
<text x="1100" y="595" font-size="33" textLength="62" lengthAdjust="spacingAndGlyphs">网关</text>
<text x="1035" y="648" font-size="31" textLength="128" lengthAdjust="spacingAndGlyphs"><tspan font-size="34">DNC</tspan>服务器</text>
<text x="1323" y="590" font-size="31" textLength="125" lengthAdjust="spacingAndGlyphs">实时数据库</text>
<text x="1507" y="617" font-size="33" textLength="98" lengthAdjust="spacingAndGlyphs">电子看板</text>
<text x="1515" y="414" font-size="33" textLength="98" lengthAdjust="spacingAndGlyphs">个人终端</text>
<text x="1326" y="693" font-size="31" textLength="85" lengthAdjust="spacingAndGlyphs">SCADA</text>
<text x="1306" y="731" font-size="33" textLength="127" lengthAdjust="spacingAndGlyphs">串口服务器</text>
<text x="1557" y="719" font-size="32" textLength="75" lengthAdjust="spacingAndGlyphs">防火墙</text>
<text x="1102" y="1046" font-size="34" textLength="102" lengthAdjust="spacingAndGlyphs">数控机床</text>
<text x="1232" y="1037" font-size="33" textLength="74" lengthAdjust="spacingAndGlyphs">机械人</text>
<text x="1302" y="1060" font-size="32" textLength="135" lengthAdjust="spacingAndGlyphs">流量计/电表</text>
<text x="1491" y="1060" font-size="36" textLength="107" lengthAdjust="spacingAndGlyphs">DCS/PLC</text>
</g>
<g class="g">
<text x="1717" y="752" font-size="14" textLength="22" lengthAdjust="spacingAndGlyphs">UPS</text>
<text x="1799" y="737" font-size="23" textLength="38" lengthAdjust="spacingAndGlyphs">水浸</text>
<text x="1913" y="737" font-size="23" textLength="38" lengthAdjust="spacingAndGlyphs">门磁</text>
<text x="2031" y="737" font-size="23" textLength="38" lengthAdjust="spacingAndGlyphs">玻破</text>
<text x="2145" y="737" font-size="23" textLength="40" lengthAdjust="spacingAndGlyphs">灯控</text>
<text x="2261" y="737" font-size="23" textLength="41" lengthAdjust="spacingAndGlyphs">红外</text>
<text x="1719" y="880" font-size="16" textLength="29" lengthAdjust="spacingAndGlyphs">新风</text>
<text x="1823" y="890" font-size="16" textLength="42" lengthAdjust="spacingAndGlyphs">配电柜</text>
<text x="1922" y="901" font-size="16" textLength="58" lengthAdjust="spacingAndGlyphs">智能门控</text>
<text x="2043" y="893" font-size="16" textLength="43" lengthAdjust="spacingAndGlyphs">机器锁</text>
<text x="2163" y="893" font-size="16" textLength="56" lengthAdjust="spacingAndGlyphs">开关电源</text>
<text x="2275" y="891" font-size="16" textLength="56" lengthAdjust="spacingAndGlyphs">智能空调</text>
<text x="1697" y="1011" font-size="18" textLength="58" lengthAdjust="spacingAndGlyphs">智能电表</text>
<text x="1797" y="1051" font-size="21" textLength="38" lengthAdjust="spacingAndGlyphs">水浸</text>
<text x="1903" y="1051" font-size="21" textLength="57" lengthAdjust="spacingAndGlyphs">摄像头</text>
<text x="2020" y="1051" font-size="21" textLength="57" lengthAdjust="spacingAndGlyphs">温湿度</text>
<text x="2145" y="1051" font-size="21" textLength="38" lengthAdjust="spacingAndGlyphs">烟感</text>
<text x="2232" y="1051" font-size="21" textLength="96" lengthAdjust="spacingAndGlyphs">断电传感器</text>
</g>

<!-- red ellipse -->
<ellipse cx="1000" cy="582" rx="237" ry="93" fill="none" stroke="#a80000" stroke-width="3" transform="rotate(-29.2 1000 582)"/>
</svg>
</body></html>
